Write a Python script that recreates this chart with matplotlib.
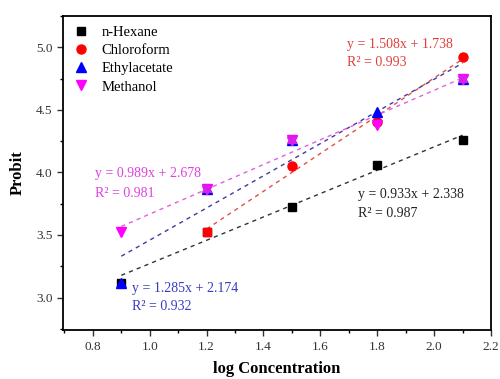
import numpy as np
import matplotlib.pyplot as plt

plt.rcParams['font.family'] = ['Liberation Serif', 'DejaVu Serif']

x = [0.9, 1.2, 1.5, 1.8, 2.1]

# probit values
hexane = [3.12, 3.52, 3.72, 4.06, 4.26]
chloro_x = [1.2, 1.5, 1.8, 2.1]
chloro = [3.52, 4.05, 4.40, 4.92]
ethyl = [3.12, 3.87, 4.26, 4.48, 4.75]
methanol = [3.52, 3.87, 4.26, 4.38, 4.75]

# fit equations as printed on the chart: slope, intercept, R2
fits = {
    "hexane": (0.933, 2.338, 0.987),
    "chloro": (1.508, 1.738, 0.993),
    "ethyl": (1.285, 2.174, 0.932),
    "methanol": (0.989, 2.678, 0.981),
}

fig = plt.figure(figsize=(5, 3.79), dpi=100)
ax = fig.add_axes([0.126, 0.129, 0.856, 0.829])

def fit_line(xs, key, color):
    a, b, r2 = fits[key]
    xs = np.array([min(xs), max(xs)])
    ax.plot(xs, a * xs + b, linestyle=(0, (3, 3)), color=color, lw=1.0, zorder=2)

fit_line(x, "hexane", "#333333")
fit_line(chloro_x, "chloro", "#e0504a")
fit_line(x, "ethyl", "#3c3ca0")
fit_line(x, "methanol", "#e060e0")

ax.plot(x, hexane, 's', color='black', ms=6, ls='none', label='n-Hexane', zorder=3)
ax.plot(chloro_x[1:], chloro[1:], 'o', color='red', ms=6.5, ls='none', label='Chloroform', zorder=4)
ax.plot(chloro_x[:1], chloro[:1], 's', color='red', ms=6, ls='none', zorder=4)
ax.plot(x, ethyl, '^', color='blue', ms=7, ls='none', label='Ethylacetate', zorder=5)
ax.plot(x, methanol, 'v', color='magenta', ms=7, ls='none', label='Methanol', zorder=6)

# where methanol and ethyl acetate coincide the marker shows as a magenta star
same = [i for i in range(len(x)) if abs(ethyl[i] - methanol[i]) < 1e-9]
tri_up = [(0, 1), (-0.866, -0.5), (0.866, -0.5)]
tri_dn = [(0, -1), (-0.866, 0.5), (0.866, 0.5)]
for m in (tri_up, tri_dn):
    ax.plot([x[i] for i in same], [methanol[i] for i in same], marker=m,
            color='#d820e8', ms=8, ls='none', zorder=7)

txt = dict(fontsize=10, va='center', ha='left')
a, b, r = fits["chloro"]
ax.text(1.694, 5.018, f"y = {a:.3f}x + {b:.3f}", color='#e0403a', **txt)
ax.text(1.694, 4.874, f"R² = {r:.3f}", color='#e0403a', **txt)
a, b, r = fits["methanol"]
ax.text(0.807, 3.995, f"y = {a:.3f}x + {b:.3f}", color='#e040e0', **txt)
ax.text(0.807, 3.835, f"R² = {r:.3f}", color='#e040e0', **txt)
a, b, r = fits["hexane"]
ax.text(1.732, 3.827, f"y = {a:.3f}x + {b:.3f}", color='#222222', **txt)
ax.text(1.732, 3.675, f"R² = {r:.3f}", color='#222222', **txt)
a, b, r = fits["ethyl"]
ax.text(0.938, 3.076, f"y = {a:.3f}x + {b:.3f}", color='#3a3ac0', **txt)
ax.text(0.938, 2.932, f"R² = {r:.3f}", color='#3a3ac0', **txt)

ax.set_xlim(0.695, 2.2)
ax.set_ylim(2.74, 5.25)
ax.set_xticks([0.8, 1.0, 1.2, 1.4, 1.6, 1.8, 2.0, 2.2])
ax.set_xticks(np.arange(0.7, 2.2, 0.1), minor=True)
ax.set_yticks([3.0, 3.5, 4.0, 4.5, 5.0])
ax.set_yticks([2.75, 3.25, 3.75, 4.25, 4.75, 5.25], minor=True)
ax.tick_params(which='major', direction='out', length=4, width=1, labelsize=9.5, colors='#333333')
ax.tick_params(which='minor', direction='out', length=2, width=1)
for s in ax.spines.values():
    s.set_linewidth(1.3)

ax.set_xlabel("log Concentration", fontsize=12, fontweight='bold', labelpad=6)
ax.set_ylabel("Probit", fontsize=12, fontweight='bold', labelpad=7)

ax.legend(loc='upper left', frameon=False, fontsize=10.5, handletextpad=0.8,
          labelspacing=0.35, borderaxespad=0.25, handlelength=1.2)

fig.savefig("out.png", dpi=100)
